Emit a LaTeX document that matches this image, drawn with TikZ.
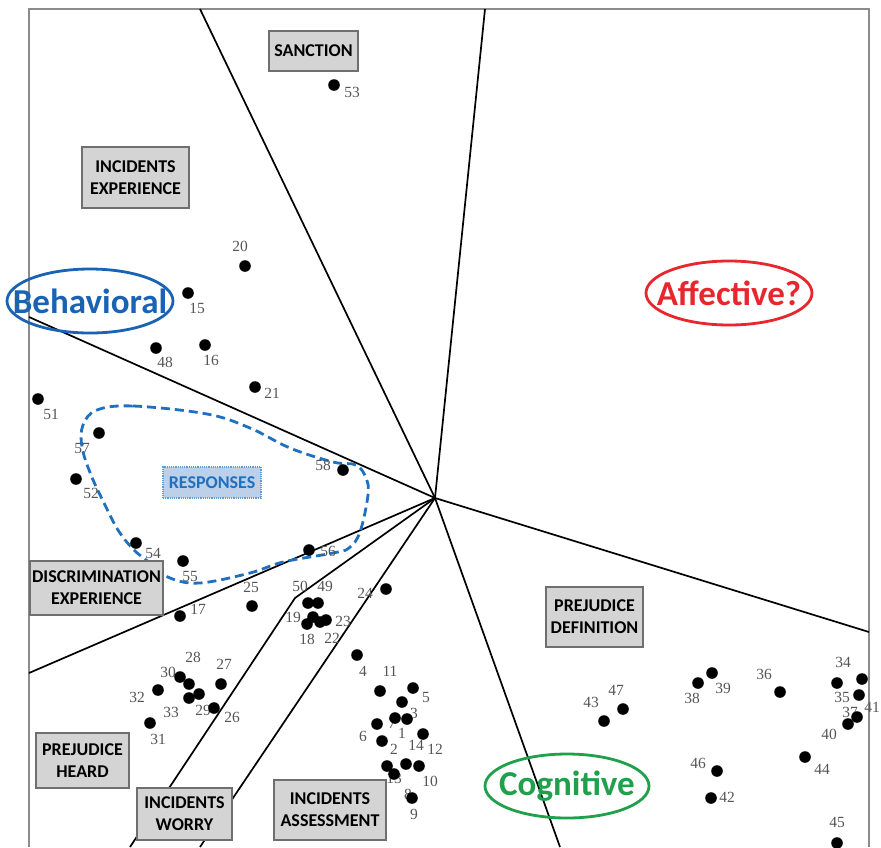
\documentclass[tikz,border=0pt]{standalone}
\usepackage{fontspec}
\setmainfont{Liberation Serif}
\newfontfamily\calib{Carlito}
\definecolor{boxgray}{HTML}{D4D4D4}
\definecolor{boxedge}{HTML}{6F6F6F}
\definecolor{numgray}{HTML}{555555}
\definecolor{behblue}{HTML}{1A63B3}
\definecolor{affred}{HTML}{E8262D}
\definecolor{coggreen}{HTML}{1FA04B}
\definecolor{respblue}{HTML}{2070C0}
\definecolor{respfill}{HTML}{BCD0EA}
\begin{document}
\begin{tikzpicture}[x=1pt, y=-1pt,
  ray/.style={line width=1.7pt, black},
  framel/.style={line width=1.8pt, boxedge!80},
  catbox/.style={draw=boxedge, line width=1.2pt, fill=boxgray, inner sep=0pt,
    align=center, font=\calib\bfseries\fontsize{18}{22}\selectfont},
  num/.style={text=numgray, inner sep=0pt, font=\fontsize{15.5}{15.5}\selectfont},
  dimtext/.style={inner sep=0pt, font=\calib\bfseries\fontsize{35}{35}\selectfont},
  dimring/.style={line width=2.8pt}]
	\useasboundingbox (0,0) rectangle (881,847);
	% frame
	\draw[framel] (29,847) -- (29,9) -- (869,9) -- (869,847);
	% rays
	\coordinate (o) at (435,498);
	\coordinate (e1) at (200,9);
	\coordinate (e2) at (485,9);
	\coordinate (e3) at (29,317);
	\coordinate (e4) at (869,632);
	\coordinate (e5) at (560,847);
	\coordinate (e6) at (200,847);
	\coordinate (k7) at (295,598);
	\coordinate (e7) at (130,847);
	\coordinate (e8) at (29,673);
	\foreach \e in {e1,e2,e3,e4,e5,e6,e8}
		\draw[ray] (o) -- (\e);
	\draw[ray] (o) -- (k7) -- (e7);
	% responses outline
	\draw[respblue, line width=2.8pt, dash pattern=on 9pt off 5pt]
		plot[smooth cycle, tension=0.6] coordinates {(97,410) (133,406) (207,414) (250,428)
		(290,448) (333,462) (356,465) (366,478) (368,495) (360,532) (349,548) (333,553)
		(283,562) (250,573) (200,583) (170,578) (150,563) (133,549) (118,530) (105,505)
		(91,475) (82,447) (83,425)};
	% number labels
	\foreach \x/\y/\n in {352/92/53, 240/246/20, 197/308/15, 165/362/48, 211/360/16,
		272/393/21, 51/414/51, 82/448/57, 91/493/52, 323/465/58, 153/553/54, 328/551/56,
		190/576/55, 251/587/25, 198/609/17, 300/586/50, 325/586/49, 293/617/19,
		307/639/18, 343/621/23, 332/638/22, 365/593/24, 363/671/4, 390/671/11,
		426/697/5, 414/713/3, 392/723/7, 363/736/6, 402/733/1, 416/745/14, 435/749/12,
		394/749/2, 394/778/13, 408/794/8, 430/781/10, 414/814/9, 193/657/28, 224/664/27,
		168/672/30, 137/697/32, 171/712/33, 203/710/29, 232/717/26, 158/739/31,
		591/702/43, 616/690/47, 692/698/38, 723/688/39, 764/674/36, 843/662/34,
		872/707/41, 842/697/35, 850/712/37, 829/734/40, 822/769/44, 698/763/46,
		727/797/42, 837/822/45}
		\node[num] (n\n) at (\x,\y) {\n};
	% points
	\foreach \x/\y in {334/85, 245/266, 188/293, 156/348, 205/345, 255/387, 38/399,
		99/433, 76/479, 343/470, 136/543, 309/550, 183/561, 252/606, 180/616,
		308/603, 318/603, 307/624, 313/617, 320/622, 326/620, 386/589, 357/655,
		380/691, 413/688, 402/702, 395/718, 407/719, 377/724, 423/734, 382/741,
		387/766, 394/774, 406/764, 419/766, 412/798, 221/684, 180/677, 189/684,
		199/694, 189/698, 158/690, 214/708, 150/723, 604/721, 623/709, 698/683,
		712/673, 780/692, 837/683, 862/679, 859/695, 857/717, 848/724, 805/757,
		717/771, 711/798, 837/843}
		\fill (\x,\y) circle (5.8pt);
	% category boxes
	\node[catbox, minimum width=89pt, minimum height=40pt] (sanc) at (313.5,51) {SANCTION};
	\node[catbox, minimum width=107pt, minimum height=61pt] (incexp) at (135.5,177.5) {INCIDENTS\\EXPERIENCE};
	\node[catbox, minimum width=133pt, minimum height=54pt] (discexp) at (96.5,588) {DISCRIMINATION\\EXPERIENCE};
	\node[catbox, minimum width=93pt, minimum height=55pt] (prejheard) at (82.5,760.5) {PREJUDICE\\HEARD};
	\node[catbox, minimum width=95pt, minimum height=52pt] (incworry) at (184.5,814) {INCIDENTS\\WORRY};
	\node[catbox, minimum width=112pt, minimum height=60pt] (incassess) at (330,810) {INCIDENTS\\ASSESSMENT};
	\node[catbox, minimum width=97pt, minimum height=60pt] (prejdef) at (594.5,617) {PREJUDICE\\DEFINITION};
	\node[catbox, draw=respblue!70, densely dotted, fill=respfill, text=respblue,
		minimum width=98pt, minimum height=31pt] (resp) at (212,482.5) {RESPONSES};
	% dimensions
	\node[dimtext, text=behblue] (beh) at (90,301) {Behavioral};
	\node[dimtext, text=affred] (aff) at (729,293) {Affective?};
	\node[dimtext, text=coggreen] (cog) at (567,786) {Cognitive};
	\draw[dimring, behblue] (beh.center) ellipse [x radius=83, y radius=32];
	\draw[dimring, affred] (aff.center) ellipse [x radius=83, y radius=32];
	\draw[dimring, coggreen] (cog.center) ellipse [x radius=82, y radius=32];
\end{tikzpicture}
\end{document}
